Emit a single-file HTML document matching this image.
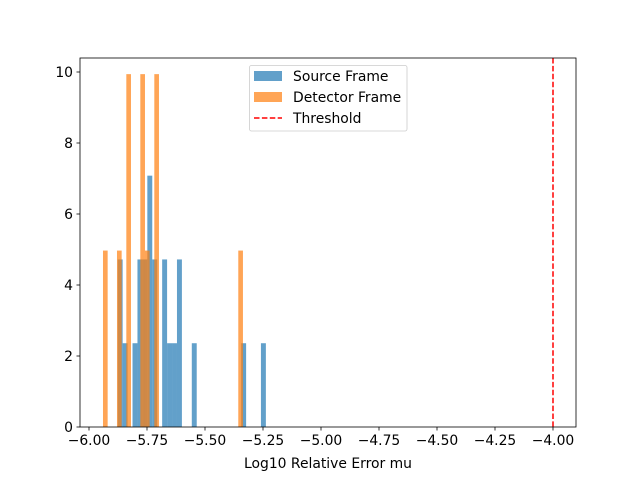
<!DOCTYPE html>
<html><head><meta charset="utf-8"><style>
html,body{margin:0;padding:0;background:#fff;}
svg{display:block;font-family:"DejaVu Sans","Liberation Sans",sans-serif;}
</style></head><body>
<svg id="chart" width="640" height="480">
</svg>
<script>
const blueStart = -5.8763, blueWidth = 0.02129;
const blueValues = [4.72,2.36,0,2.36,4.72,4.72,7.08,4.72,0,4.72,2.36,2.36,4.72,0,0,2.36,0,0,0,0,0,0,0,0,0,2.36,0,0,0,2.36];
const orangeStart = -5.9397, orangeWidth = 0.02011;
const orangeValues = [4.97,0,0,4.97,0,9.94,0,0,9.94,4.97,0,9.94,0,0,0,0,0,0,0,0,0,0,0,0,0,0,0,0,0,4.97];
const xTicks = [-6.00,-5.75,-5.50,-5.25,-5.00,-4.75,-4.50,-4.25,-4.00];
const yTicks = [0,2,4,6,8,10];
const threshold = -4.0;

const svg = document.getElementById('chart');
const NS = 'http://www.w3.org/2000/svg';
const L=80, R=576, T=58, B=427;
const xs = v => 89 + (v + 6) * 232;
const ys = v => 427 - v * 35.5;
function mk(tag, attrs, parent){ const e=document.createElementNS(NS,tag); for(const k in attrs) e.setAttribute(k,attrs[k]); (parent||svg).appendChild(e); return e; }

const gBlue = mk('g',{});


blueValues.forEach((v,i)=>{ if(!v) return;
  const x0=xs(blueStart+i*blueWidth), x1=xs(blueStart+(i+1)*blueWidth);
  const r=mk('rect',{x:x0,y:ys(v),width:x1-x0,height:B-ys(v),fill:'#1f77b4','fill-opacity':0.7},gBlue);
  
  
});
const gOr = mk('g',{});


orangeValues.forEach((v,i)=>{ if(!v) return;
  const x0=xs(orangeStart+i*orangeWidth), x1=xs(orangeStart+(i+1)*orangeWidth);
  const r=mk('rect',{x:x0,y:ys(v),width:x1-x0,height:B-ys(v),fill:'#ff7f0e','fill-opacity':0.7},gOr);
  
  
});
const th=mk('line',{x1:xs(threshold),x2:xs(threshold),y1:T,y2:B,stroke:'#ff0000','stroke-width':1.5,'stroke-dasharray':'5.5,2.4'});



const frame=mk('rect',{x:L,y:T,width:R-L,height:B-T,fill:'none',stroke:'#000','stroke-width':0.8});



xTicks.forEach(t=>{ const x=xs(t);
  mk('line',{x1:x,x2:x,y1:B,y2:B+3.5,stroke:'#000','stroke-width':0.8});
  const tx=mk('text',{x:x,y:B+18,'font-size':13.9,'text-anchor':'middle',fill:'#000'});
  tx.textContent=(t<0?'\u2212':'')+Math.abs(t).toFixed(2);
  
  
});
yTicks.forEach(t=>{ const y=ys(t);
  mk('line',{x1:L-3.5,x2:L,y1:y,y2:y,stroke:'#000','stroke-width':0.8});
  const tx=mk('text',{x:L-7,y:y+5,'font-size':13.9,'text-anchor':'end',fill:'#000'});
  tx.textContent=String(t);
  
  
});
const xt=mk('text',{x:(L+R)/2,y:468,'font-size':13.9,'text-anchor':'middle',fill:'#000'});
xt.textContent='Log10 Relative Error mu';



const lg=mk('g',{});


mk('rect',{x:249.5,y:65.5,width:157.5,height:65.5,rx:2,fill:'#fff','fill-opacity':0.8,stroke:'#ccc','stroke-width':0.8},lg);
const entries=[['Source Frame','#1f77b4','patch'],['Detector Frame','#ff7f0e','patch'],['Threshold','#ff0000','line']];
entries.forEach((e,i)=>{ const cy=76+i*21;
  const g=mk('g',{},lg);
  
  
  if(e[2]==='patch') mk('rect',{x:254,y:cy-5,width:28,height:10,fill:e[1],'fill-opacity':0.7},g);
  else mk('line',{x1:254,x2:282,y1:cy,y2:cy,stroke:e[1],'stroke-width':1.5,'stroke-dasharray':'5.5,2.4'},g);
  const t=mk('text',{x:293,y:cy+5,'font-size':13.9,fill:'#000'},g);
  t.textContent=e[0];
});
</script>
</body></html>
